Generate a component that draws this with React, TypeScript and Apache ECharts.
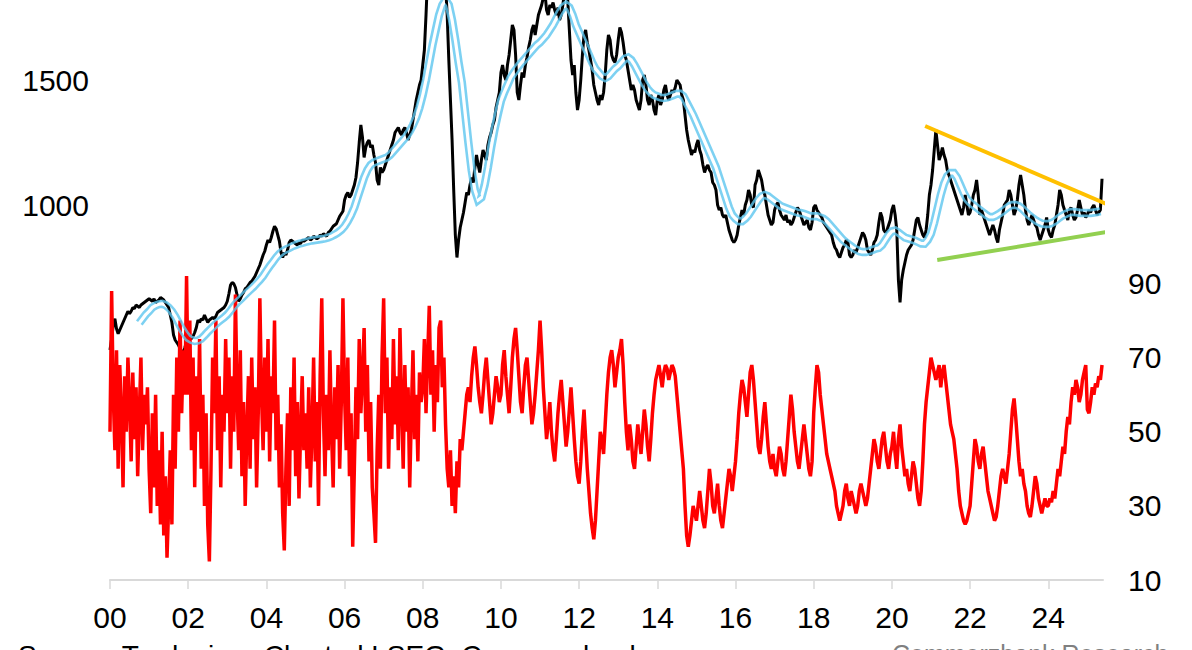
import React, { useEffect, useRef } from "react";
import * as echarts from "echarts";

// ---- data ----
const START_YEAR = 2000;
const STEP = 1 / 24; // semi-monthly observations
const X_MIN = 2000;
const X_MAX = 2025.4;

// Platinum price (USD/oz), left axis
const platinum: number[] = [
  // 2000
  420, 465, 520, 545, 505, 485, 500, 515, 530, 545, 560, 575, 565, 575, 590, 585, 600, 595, 590, 600, 605, 610, 615, 620,
  // 2001
  625, 620, 615, 625, 610, 615, 620, 630, 625, 620, 610, 600, 590, 560, 530, 480, 460, 450, 440, 425, 415, 410, 430, 455,
  // 2002
  460, 470, 465, 475, 490, 510, 540, 530, 545, 540, 560, 545, 530, 540, 545, 550, 545, 555, 570, 575, 580, 585, 590, 600,
  // 2003
  615, 645, 680, 690, 685, 670, 640, 615, 625, 640, 650, 665, 670, 680, 690, 695, 705, 715, 730, 745, 760, 780, 800, 815,
  // 2004
  840, 860, 850, 870, 895, 915, 905, 880, 855, 810, 790, 810, 800, 820, 850, 860, 855, 850, 845, 840, 850, 845, 860, 855,
  // 2005
  860, 865, 870, 860, 865, 875, 870, 865, 870, 880, 875, 885, 880, 875, 890, 895, 905, 915, 920, 925, 940, 955, 965, 975,
  // 2006
  1020, 1040, 1050, 1030, 1040, 1060, 1080, 1110, 1170, 1250, 1320, 1270, 1190, 1230, 1250, 1260, 1230, 1240, 1200, 1170, 1100, 1080, 1150, 1130,
  // 2007
  1140, 1160, 1180, 1200, 1220, 1240, 1260, 1290, 1300, 1310, 1290, 1280, 1300, 1310, 1290, 1260, 1280, 1300, 1340, 1380, 1420, 1450, 1480, 1500,
  // 2008
  1560, 1620, 1760, 1920, 2100, 2200, 2060, 1980, 1950, 2040, 2020, 2060, 2040, 1980, 1880, 1760, 1580, 1420, 1260, 1060, 880, 790, 860, 910,
  // 2009
  940, 970, 1010, 1050, 1040, 1080, 1110, 1090, 1150, 1200, 1160, 1130, 1180, 1220, 1200, 1180, 1240, 1270, 1290, 1320, 1340, 1390, 1420, 1450,
  // 2010
  1530, 1560, 1520, 1500, 1560, 1600, 1660, 1720, 1700, 1600, 1450, 1420, 1480, 1530, 1510, 1560, 1590, 1630, 1660, 1700, 1720, 1680, 1720, 1760,
  // 2011
  1780, 1800, 1830, 1850, 1780, 1760, 1800, 1790, 1810, 1780, 1760, 1790, 1740, 1760, 1800, 1850, 1860, 1820, 1700, 1580, 1520, 1560, 1450, 1380,
  // 2012
  1420, 1500, 1600, 1680, 1700, 1650, 1620, 1580, 1540, 1480, 1450, 1420, 1400, 1440, 1420, 1450, 1520, 1620, 1680, 1660, 1600, 1580, 1570, 1600,
  // 2013
  1660, 1710, 1690, 1650, 1600, 1580, 1540, 1500, 1460, 1480, 1460, 1420, 1400, 1380, 1420, 1500, 1520, 1480, 1420, 1400, 1440, 1420, 1380, 1360,
  // 2014
  1420, 1440, 1400, 1420, 1460, 1480, 1440, 1420, 1440, 1460, 1450, 1470, 1500, 1490, 1480, 1440, 1420, 1360, 1300, 1260, 1230, 1200, 1220, 1210,
  // 2015
  1240, 1260, 1220, 1200, 1160, 1130, 1150, 1160, 1140, 1130, 1090, 1080, 1060, 1000, 980, 990, 960, 950, 960, 930, 900, 880, 860, 850,
  // 2016
  860, 880, 920, 950, 980, 960, 1000, 1020, 1060, 1040, 1000, 990, 1080, 1100, 1140, 1120, 1100, 1060, 1040, 1000, 960, 940, 920, 930,
  // 2017
  980, 1000, 1010, 980, 960, 950, 940, 960, 930, 940, 920, 930, 950, 970, 990, 980, 960, 940, 920, 930, 940, 910, 900, 930,
  // 2018
  990, 1000, 980, 970, 960, 950, 930, 920, 910, 900, 890, 880, 850, 830, 820, 800, 790, 810, 830, 840, 860, 850, 800, 790,
  // 2019
  800, 820, 810, 830, 850, 870, 890, 880, 860, 820, 810, 800, 820, 850, 860, 880, 930, 970, 950, 900, 890, 900, 920, 940,
  // 2020
  980, 1000, 960, 900, 700, 610, 700, 740, 770, 800, 820, 830, 840, 860, 900, 940, 950, 920, 900, 880, 870, 900, 960, 1040,
  // 2021
  1080, 1140, 1220, 1300, 1240, 1180, 1200, 1230, 1200, 1180, 1140, 1120, 1100, 1080, 1060, 1040, 1020, 1000, 980, 960, 990, 1040, 1000, 960,
  // 2022
  970, 1000, 1040, 1060, 1100, 1040, 960, 980, 960, 940, 920, 900, 880, 900, 920, 900, 870, 850, 900, 930, 960, 1000, 1010, 1020,
  // 2023
  1060, 1040, 1000, 960, 980, 1020, 1080, 1120, 1080, 1040, 980, 940, 920, 940, 960, 940, 920, 910, 880, 860, 880, 900, 920, 950,
  // 2024
  900, 880, 870, 900, 920, 960, 1000, 1060, 1040, 1000, 980, 960, 940, 980, 990, 960, 940, 950, 980, 1020, 990, 960, 970, 950,
  // 2025
  960, 980, 970, 990, 1000, 980, 960, 970, 980, 1105,
];

// Volatility indicator (right axis)
const volatility: number[] = [
  // 2000
  50, 88, 60, 45, 72, 40, 68, 55, 35, 65, 50, 70, 58, 42, 66, 48, 62, 38, 55, 70, 45, 60, 52, 62,
  // 2001
  40, 28, 55, 35, 60, 30, 45, 25, 50, 22, 38, 16, 30, 45, 25, 60, 40, 70, 50, 80, 55, 72, 60, 92,
  // 2002
  60, 80, 45, 70, 35, 65, 50, 75, 40, 60, 30, 55, 25, 15, 40, 70, 55, 80, 45, 65, 35, 60, 50, 75,
  // 2003
  55, 70, 40, 65, 50, 87, 60, 45, 72, 38, 58, 30, 50, 65, 40, 70, 48, 62, 35, 55, 86, 60, 45, 70,
  // 2004
  50, 75, 42, 65, 55, 80, 45, 60, 35, 52, 28, 18, 40, 55, 30, 62, 45, 70, 38, 58, 32, 50, 65, 45,
  // 2005
  55, 40, 62, 35, 50, 70, 42, 58, 30, 65, 86, 55, 38, 60, 45, 72, 50, 35, 62, 48, 68, 40, 58, 86,
  // 2006
  60, 45, 70, 38, 55, 19, 40, 62, 48, 75, 55, 65, 78, 50, 68, 42, 58, 35, 28, 20, 45, 60, 40, 70,
  // 2007
  86, 55, 70, 40, 62, 48, 75, 52, 65, 45, 78, 58, 40, 68, 50, 62, 35, 55, 72, 48, 60, 42, 66, 58,
  // 2008
  62, 75, 55, 70, 84, 60, 72, 50, 68, 58, 78, 80, 62, 70, 52, 40, 35, 45, 30, 38, 28, 42, 35, 48,
  // 2009
  45, 50, 55, 60, 62, 58, 65, 70, 73, 68, 62, 58, 55, 60, 66, 70, 64, 58, 52, 55, 60, 65, 62, 58,
  // 2010
  60, 68, 72, 65, 60, 55, 62, 70, 75, 78, 72, 65, 58, 55, 62, 68, 70, 64, 58, 52, 55, 60, 66, 72,
  // 2011
  80, 72, 62, 55, 48, 52, 58, 50, 45, 42, 48, 55, 60, 64, 58, 52, 46, 50, 56, 62, 55, 48, 42, 38,
  // 2012
  36, 42, 50, 56, 48, 40, 34, 28, 24, 21, 26, 34, 42, 50, 48, 44, 52, 60, 66, 70, 72, 68, 62, 66,
  // 2013
  70, 72, 75, 68, 58, 50, 45, 52, 48, 42, 40, 46, 52, 48, 44, 50, 56, 52, 46, 42, 48, 55, 60, 64,
  // 2014
  66, 68, 65, 62, 66, 68, 67, 64, 66, 68, 67, 65, 60, 55, 50, 45, 40, 30, 22, 19, 22, 26, 30, 28,
  // 2015
  26, 30, 34, 30, 26, 24, 28, 34, 40, 36, 30, 28, 32, 36, 30, 26, 24, 28, 32, 36, 40, 38, 34, 38,
  // 2016
  42, 48, 55, 60, 64, 62, 58, 54, 60, 66, 68, 64, 58, 52, 46, 44, 48, 54, 58, 52, 46, 42, 40, 44,
  // 2017
  40, 38, 42, 46, 44, 40, 38, 42, 48, 54, 60, 56, 50, 46, 42, 40, 44, 48, 52, 48, 44, 40, 38, 42,
  // 2018
  55, 62, 68, 66, 60, 56, 52, 48, 44, 42, 40, 38, 36, 34, 30, 28, 26, 28, 30, 34, 36, 32, 30, 34,
  // 2019
  32, 30, 28, 30, 34, 36, 34, 32, 30, 32, 36, 40, 44, 48, 46, 42, 40, 44, 48, 50, 46, 42, 40, 44,
  // 2020
  46, 50, 44, 40, 48, 52, 46, 42, 38, 40, 36, 34, 38, 42, 40, 36, 32, 30, 34, 42, 52, 58, 62, 66,
  // 2021
  70, 68, 66, 64, 66, 68, 62, 66, 68, 64, 60, 56, 52, 50, 48, 44, 40, 34, 30, 28, 26, 25, 26, 28,
  // 2022
  30, 36, 42, 48, 46, 42, 40, 44, 46, 42, 38, 34, 32, 30, 28, 26, 27, 30, 34, 38, 40, 38, 36, 40,
  // 2023
  44, 50, 56, 59, 54, 48, 42, 38, 40, 36, 34, 30, 28, 27, 30, 34, 38, 36, 32, 30, 28, 30, 32, 30,
  // 2024
  30, 32, 31, 34, 32, 36, 40, 38, 42, 46, 44, 50, 54, 52, 58, 62, 60, 64, 62, 58, 60, 64, 66, 68,
  // 2025
  56, 55, 58, 62, 60, 63, 62, 65, 64, 68,
];

// Moving average of the price (monthly), left axis
const MA_START = 2000.75;
const MA_STEP = 1 / 12;
const movingAvg: number[] = [
  528, 545, 562,
  575, 590, 598, 603, 605, 600, 590, 575, 555, 530, 505, 485,
  468, 460, 456, 458, 465, 478, 492, 505, 518, 530, 540, 550,
  562, 578, 595, 610, 622, 635, 648, 660, 672, 686, 700, 716,
  736, 755, 772, 790, 805, 815, 822, 828, 835, 840, 845, 848,
  852, 855, 858, 860, 862, 864, 866, 870, 875, 882, 890, 900,
  915, 935, 960, 990, 1030, 1070, 1110, 1140, 1160, 1170, 1175, 1180,
  1185, 1190, 1200, 1215, 1230, 1245, 1260, 1275, 1295, 1320, 1350, 1390,
  1440, 1500, 1570, 1640, 1700, 1760, 1800, 1820, 1800, 1740, 1660, 1570,
  1490, 1370, 1250, 1140, 1060, 1020, 1030, 1080, 1150, 1230, 1300, 1360,
  1416, 1450, 1480, 1510, 1530, 1548, 1565, 1580, 1595, 1610, 1625, 1640,
  1650, 1665, 1680, 1700, 1720, 1745, 1770, 1790, 1800, 1790, 1760, 1720,
  1690, 1660, 1630, 1600, 1570, 1545, 1530, 1515, 1508, 1515, 1530, 1545,
  1555, 1570, 1585, 1590, 1580, 1560, 1535, 1510, 1485, 1465, 1450, 1440,
  1435, 1430, 1428, 1430, 1435, 1440, 1445, 1445, 1435, 1410, 1385, 1360,
  1330, 1300, 1270, 1240, 1210, 1180, 1150, 1110, 1070, 1030, 990, 960,
  945, 935, 935, 945, 960, 980, 1000, 1020, 1035, 1040, 1035, 1025,
  1015, 1005, 995, 990, 985, 980, 975, 970, 968, 965, 960, 955,
  955, 955, 950, 945, 935, 920, 905, 890, 875, 860, 850, 840,
  830, 822, 815, 812, 812, 815, 820, 825, 828, 840, 860, 880,
  895, 898, 890, 880, 870, 866, 862, 858, 852, 846, 845, 860,
  885, 930, 985, 1040, 1085, 1115, 1128, 1128, 1110, 1080, 1050, 1025,
  1010, 1000, 990, 980, 970, 960, 952, 952, 958, 966, 975, 985,
  995, 1000, 1000, 995, 985, 972, 960, 950, 940, 932, 926, 924,
  924, 928, 935, 945, 955, 962, 968, 972, 972, 970, 968, 968,
  968, 968, 970, 972, 975,
];

// Trend lines (year, price)
const resistanceLine: number[][] = [
  [2020.85, 1316],
  [2025.79, 984],
];
const supportLine: number[][] = [
  [2021.16, 780],
  [2025.66, 896],
];

// Tick labels
const xTickYears = [2000, 2002, 2004, 2006, 2008, 2010, 2012, 2014, 2016, 2018, 2020, 2022, 2024];
const xTickLabels = ["00", "02", "04", "06", "08", "10", "12", "14", "16", "18", "20", "22", "24"];
const leftTickLabels = [1000, 1500];
const rightTickLabels = [10, 30, 50, 70, 90];

const sourceText = "Source: Tradeview, Charted LSEG, Commerzbank";
const creditText = "Commerzbank Research";

// ---- colours ----
const BLACK = "#000000";
const RED = "#ff0000";
const BLUE = "#5cc6ef";
const ORANGE = "#ffc000";
const GREEN = "#92d050";
const FONT = "'Liberation Sans', Arial, Helvetica, sans-serif";

function offsetPolyline(pts: number[][], d: number): number[][] {
  const n = pts.length;
  const segN: number[][] = [];
  for (let i = 0; i < n - 1; i++) {
    const dx = pts[i + 1][0] - pts[i][0];
    const dy = pts[i + 1][1] - pts[i][1];
    const len = Math.hypot(dx, dy) || 1;
    segN.push([-dy / len, dx / len]);
  }
  const out: number[][] = [];
  for (let i = 0; i < n; i++) {
    const a = segN[Math.max(0, i - 1)];
    const b = segN[Math.min(n - 2, i)];
    let nx = a[0] + b[0];
    let ny = a[1] + b[1];
    const l = Math.hypot(nx, ny) || 1;
    nx /= l;
    ny /= l;
    const dot = Math.max(0.35, nx * b[0] + ny * b[1]);
    const m = d / dot;
    out.push([pts[i][0] + nx * m, pts[i][1] + ny * m]);
  }
  return out;
}

export default function App() {
  const ref = useRef<HTMLDivElement>(null);

  useEffect(() => {
    document.body.style.margin = "0";
    if (!ref.current) return;
    const chart = echarts.init(ref.current, undefined, { renderer: "svg" });

    const priceData = platinum.map((v, i) => [START_YEAR + i * STEP, v]);
    const volData = volatility.map((v, i) => [START_YEAR + i * STEP, v]);
    const maData = movingAvg.map((v, i) => [MA_START + i * MA_STEP, v]);

    const option: any = {
      animation: false,
      backgroundColor: "#ffffff",
      textStyle: { fontFamily: FONT },
      grid: {
        left: 110,
        right: 89,
        top: 0,
        bottom: 70,
        containLabel: false,
        outerBoundsMode: "none",
      },
      xAxis: {
        type: "value",
        min: X_MIN,
        max: X_MAX,
        interval: 2,
        axisLine: { show: true, onZero: false, lineStyle: { color: "#d9d9d9", width: 2 } },
        axisTick: { show: true, length: 9, lineStyle: { color: "#d9d9d9", width: 1.5 } },
        splitLine: { show: false },
        axisLabel: {
          color: "#000",
          fontSize: 30,
          fontFamily: FONT,
          margin: 22,
          showMaxLabel: false,
          formatter: (v: number) => {
            const idx = xTickYears.findIndex((y) => Math.abs(y - v) < 1e-6);
            return idx >= 0 ? xTickLabels[idx] : "";
          },
        },
      },
      yAxis: [
        {
          type: "value",
          position: "left",
          min: -500,
          max: 1820,
          interval: 500,
          axisLine: { show: false },
          axisTick: { show: false },
          splitLine: { show: false },
          axisLabel: {
            color: "#000",
            fontSize: 30,
            fontFamily: FONT,
            margin: 21,
            showMaxLabel: false,
            formatter: (v: number) => (leftTickLabels.includes(v) ? String(v) : ""),
          },
        },
        {
          type: "value",
          position: "right",
          min: 10,
          max: 166.5,
          interval: 10,
          axisLine: { show: false },
          axisTick: { show: false },
          splitLine: { show: false },
          axisLabel: {
            color: "#000",
            fontSize: 30,
            fontFamily: FONT,
            margin: 25,
            showMaxLabel: false,
            formatter: (v: number) => (rightTickLabels.includes(v) ? String(v) : ""),
          },
        },
      ],
      series: [
        {
          name: "Platinum",
          type: "line",
          yAxisIndex: 0,
          data: priceData,
          showSymbol: false,
          symbol: "none",
          lineStyle: { color: BLACK, width: 3 },
          z: 2,
        },
        {
          name: "Volatility",
          type: "line",
          yAxisIndex: 1,
          data: volData,
          showSymbol: false,
          symbol: "none",
          lineStyle: { color: RED, width: 3.5 },
          z: 3,
        },
        {
          name: "Moving average",
          type: "custom",
          coordinateSystem: "cartesian2d",
          xAxisIndex: 0,
          yAxisIndex: 0,
          data: [[2010, 1000]],
          clip: true,
          z: 4,
          renderItem: (_params: any, api: any) => {
            const pts = maData.map((d) => api.coord(d));
            const mk = (off: number) => ({
              type: "polyline",
              shape: { points: offsetPolyline(pts, off) },
              style: { stroke: BLUE, lineWidth: 2.6, fill: "none", opacity: 0.8 },
              silent: true,
            });
            return { type: "group", children: [mk(2.9), mk(-2.9)] };
          },
        },
        {
          name: "Resistance",
          type: "line",
          yAxisIndex: 0,
          data: resistanceLine,
          showSymbol: false,
          symbol: "none",
          clip: false,
          lineStyle: { color: ORANGE, width: 4 },
          z: 5,
        },
        {
          name: "Support",
          type: "line",
          yAxisIndex: 0,
          data: supportLine,
          showSymbol: false,
          symbol: "none",
          clip: false,
          lineStyle: { color: GREEN, width: 4 },
          z: 5,
        },
      ],
      graphic: [
        {
          type: "text",
          left: 18,
          top: 641,
          style: { text: sourceText, fill: "#000", font: `28px ${FONT}` },
        },
        {
          type: "text",
          left: 892,
          top: 641,
          style: { text: creditText, fill: "#808080", font: `25px ${FONT}` },
        },
      ],
    };

    chart.setOption(option);
    return () => chart.dispose();
  }, []);

  return <div ref={ref} style={{ width: 1192, height: 650 }} />;
}
